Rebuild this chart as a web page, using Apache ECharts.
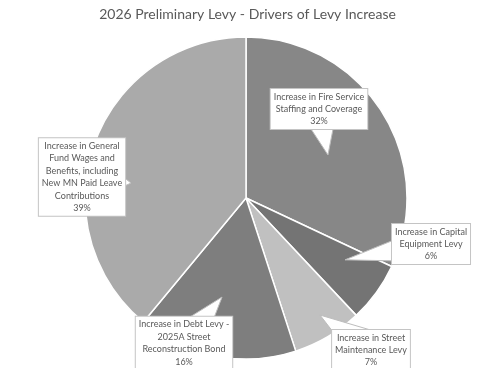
<!DOCTYPE html>
<html>
<head>
<meta charset="utf-8">
<script src="https://cdn.jsdelivr.net/npm/echarts@6/dist/echarts.min.js"></script>
<style>html,body{margin:0;padding:0;background:#fff;}#c{width:495px;height:368px;}</style>
</head>
<body>
<div id="c"></div>
<script>
var titleText = '2026 Preliminary Levy - Drivers of Levy Increase';
var categories = [
  'Increase in Fire Service\nStaffing and Coverage',
  'Increase in Capital\nEquipment Levy',
  'Increase in Street\nMaintenance Levy',
  'Increase in Debt Levy -\n2025A Street\nReconstruction Bond',
  'Increase in General\nFund Wages and\nBenefits, including\nNew MN Paid Leave\nContributions'
];
var values = [32, 6, 7, 16, 39];
var colors = ['#878787', '#747474', '#c0c0c0', '#7e7e7e', '#aaaaaa'];

// callout layout (styling only): box centres in px, tail tip as [radius fraction, angle offset deg], tail half width
var labelPos = [[319, 109], [431, 244], [371, 350], [184, 343], [82, 177]];
var tailTip = [[0.575, 4.7], [0.725, -4], [0.86, -1.7], [0.633, 2.8], [0.72, -12.4]];
var tailHalf = [19, 18, 20, 20, 30];

var CX = 246, CY = 198, R = 161;
var total = values.reduce(function (a, b) { return a + b; }, 0);
var mids = [];
(function () {
  var acc = 0;
  for (var i = 0; i < values.length; i++) {
    mids.push((acc + values[i] / 2) / total * 360);
    acc += values[i];
  }
})();

var chart = echarts.init(document.getElementById('c'), null, { renderer: 'canvas' });
var pieData = categories.map(function (c, i) {
  return { name: c, value: values[i], itemStyle: { color: colors[i] } };
});
var calloutData = values.map(function (v, i) { return [i, v]; });

function renderCallout(params, api) {
  var i = api.value(0);
  var v = api.value(1);
  var lp = labelPos[i];
  var tt = tailTip[i];
  var ang = (mids[i] + tt[1]) * Math.PI / 180;
  var tip = [CX + Math.sin(ang) * R * tt[0], CY - Math.cos(ang) * R * tt[0]];
  var dx = tip[0] - lp[0], dy = tip[1] - lp[1];
  var len = Math.sqrt(dx * dx + dy * dy) || 1;
  var nx = -dy / len, ny = dx / len;
  var hw = tailHalf[i];
  var b1 = [lp[0] + nx * hw, lp[1] + ny * hw];
  var b2 = [lp[0] - nx * hw, lp[1] - ny * hw];
  return {
    type: 'group',
    children: [
      {
        type: 'polygon',
        shape: { points: [b1, tip, b2] },
        style: { fill: '#ffffff', stroke: '#bdbdbd', lineWidth: 1 }
      },
      {
        type: 'text',
        x: lp[0], y: lp[1],
        style: {
          text: categories[i] + '\n' + v + '%',
          align: 'center',
          verticalAlign: 'middle',
          fontFamily: 'Lato',
          fontSize: 9,
          lineHeight: 12.4,
          fill: '#595959',
          backgroundColor: '#ffffff',
          borderColor: '#c4c4c4',
          borderWidth: 1,
          padding: [2, 3, 1, 3]
        }
      }
    ]
  };
}

chart.setOption({
  animation: false,
  backgroundColor: '#fff',
  title: {
    text: titleText,
    left: 'center',
    top: 2,
    textStyle: { fontFamily: 'Lato', fontSize: 14, fontWeight: 'normal', color: '#595959' }
  },
  series: [{
    type: 'pie',
    z: 2,
    center: [CX, CY],
    radius: [0, R],
    startAngle: 90,
    clockwise: true,
    data: pieData,
    itemStyle: { borderColor: '#fff', borderWidth: 1.5 },
    label: { show: false },
    labelLine: { show: false }
  }, {
    type: 'custom',
    z: 3,
    coordinateSystem: 'none',
    silent: true,
    data: calloutData,
    renderItem: renderCallout
  }]
});
</script>
</body>
</html>
